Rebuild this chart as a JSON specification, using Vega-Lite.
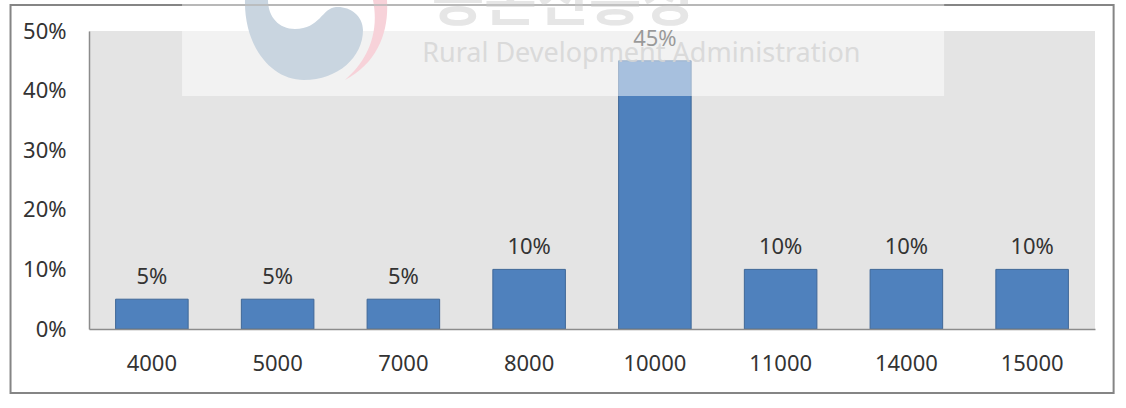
{
"$schema":"https://vega.github.io/schema/vega-lite/v6.json",
"width":1006,"height":298,
"autosize":{"type":"none"},
"padding":{"left":89,"top":31,"right":31,"bottom":79},
"background":"#ffffff",
"config":{"view":{"stroke":null},"font":"Noto Sans"},
"data":{"values":[
{"value":"4000","share":0.05},{"value":"5000","share":0.05},{"value":"7000","share":0.05},{"value":"8000","share":0.10},
{"value":"10000","share":0.45},{"value":"11000","share":0.10},{"value":"14000","share":0.10},{"value":"15000","share":0.10}]},
"resolve":{"scale":{"x":"independent"},"axis":{"x":"independent"}},
"layer":[
{"data":{"values":[{}]},"mark":{"type":"rect","fill":null,"stroke":"#858585","strokeWidth":2},
"encoding":{"x":{"datum":-0.078,"type":"quantitative","scale":{"domain":[0,1]},"axis":null},"x2":{"datum":1.0185},
"y":{"datum":0.5436,"type":"quantitative","scale":{"domain":[0,0.5],"nice":false},"axis":{"values":[0,0.1,0.2,0.3,0.4,0.5],"format":".0%","title":null,"grid":false,"ticks":false,"labelFontSize":22,"labelColor":"#333333","labelPadding":23,"domainColor":"#8c8c8c","domainWidth":1.5,"zindex":1}},"y2":{"datum":-0.1074}}},
{"data":{"values":[{}]},"mark":{"type":"rect","fill":"#e4e4e4"},
"encoding":{"x":{"datum":0,"type":"quantitative","scale":{"domain":[0,1]},"axis":null},"x2":{"datum":1},
"y":{"datum":0.5,"type":"quantitative","scale":{"domain":[0,0.5],"nice":false}},"y2":{"datum":0}}},
{"mark":{"type":"bar","fill":"#4f81bd","stroke":"#3f6797","strokeWidth":1},
"encoding":{"x":{"field":"value","type":"ordinal","sort":null,"scale":{"paddingInner":0.423,"paddingOuter":0.2115},"axis":{"title":null,"ticks":false,"labelAngle":0,"labelFontSize":22,"labelColor":"#333333","labelPadding":24,"domainColor":"#8c8c8c","domainWidth":1.5,"zindex":1}},
"y":{"field":"share","type":"quantitative","scale":{"domain":[0,0.5],"nice":false}}}},
{"mark":{"type":"text","fontSize":22,"color":"#333333","baseline":"middle","dy":-22},
"encoding":{"x":{"field":"value","type":"ordinal","sort":null,"scale":{"paddingInner":0.423,"paddingOuter":0.2115},"axis":null},
"y":{"field":"share","type":"quantitative","scale":{"domain":[0,0.5],"nice":false}},
"text":{"field":"share","type":"quantitative","format":".0%"}}},
{"data":{"values":[{}]},"mark":{"type":"rect","fill":"#ffffff","opacity":0.5},
"encoding":{"x":{"datum":0.0925,"type":"quantitative","scale":{"domain":[0,1]},"axis":null},"x2":{"datum":0.85},
"y":{"datum":0.552,"type":"quantitative","scale":{"domain":[0,0.5],"nice":false}},"y2":{"datum":0.391}}},
{"data":{"values":[{}]},"mark":{"type":"point","filled":true,"size":40000,"color":"#c9d5e0","opacity":1,"shape":"M-.59,-.2C-.6,.25 -.34,.6 0,.6C.34,.6 .59,.37 .59,.1C.59,-.05 .45,-.14 .32,-.13C.18,-.12 .16,.09 -.09,.09C-.25,.09 -.36,-.03 -.36,-.2Z"},
"encoding":{"x":{"datum":0.2137,"type":"quantitative","scale":{"domain":[0,1]},"axis":null},
"y":{"datum":0.5185,"type":"quantitative","scale":{"domain":[0,0.5],"nice":false}}}},
{"data":{"values":[{}]},"mark":{"type":"point","filled":true,"size":40000,"color":"#f7d2d9","opacity":1,"shape":"M.83,-.2C.85,.1 .75,.42 .41,.6C.62,.42 .76,.15 .69,-.2Z"},
"encoding":{"x":{"datum":0.2137,"type":"quantitative","scale":{"domain":[0,1]},"axis":null},
"y":{"datum":0.5185,"type":"quantitative","scale":{"domain":[0,0.5],"nice":false}}}},
{"data":{"values":[{}]},"mark":{"type":"text","text":"농촌진흥청","font":"Noto Sans CJK KR","fontSize":57,"fontWeight":"bold","color":"#e6e6e6","baseline":"alphabetic","align":"center"},
"encoding":{"x":{"datum":0.471,"type":"quantitative","scale":{"domain":[0,1]},"axis":null},
"y":{"datum":0.5185,"type":"quantitative","scale":{"domain":[0,0.5],"nice":false}}}},
{"data":{"values":[{}]},"mark":{"type":"rule","stroke":"#b4b4b4","strokeWidth":1.5},
"encoding":{"x":{"datum":0.0925,"type":"quantitative","scale":{"domain":[0,1]},"axis":null},"x2":{"datum":0.85},
"y":{"datum":0.5436,"type":"quantitative","scale":{"domain":[0,0.5],"nice":false}}}},
{"data":{"values":[{}]},"mark":{"type":"text","text":"Rural Development Administration","fontSize":27,"color":"#d6d6d6","opacity":0.85,"baseline":"middle","align":"center"},
"encoding":{"x":{"datum":0.549,"type":"quantitative","scale":{"domain":[0,1]},"axis":null},
"y":{"datum":0.461,"type":"quantitative","scale":{"domain":[0,0.5],"nice":false}}}}
]
}
